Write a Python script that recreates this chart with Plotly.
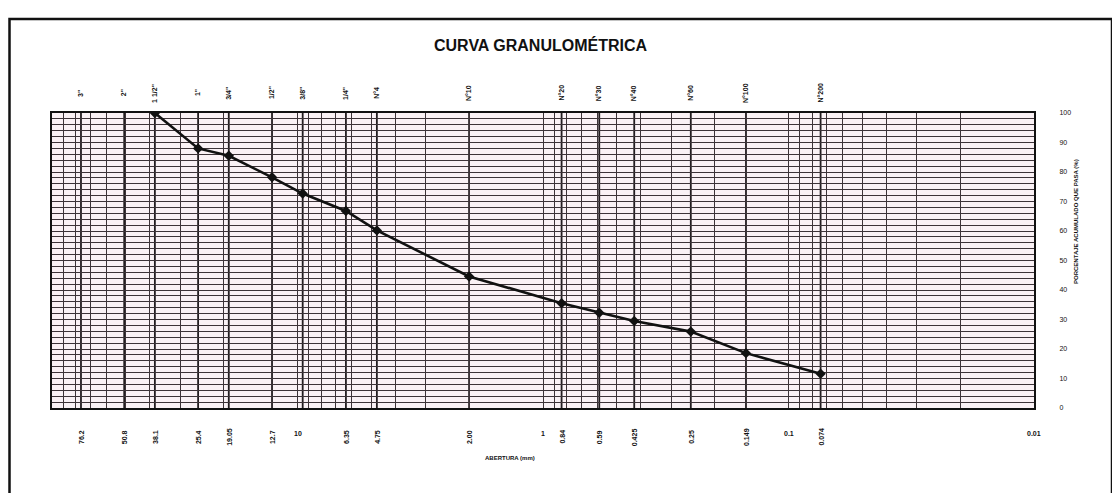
import plotly.graph_objects as go
import math

# ---- data ----
sieve_names = ['3"', '2"', '1 1/2"', '1"', '3/4"', '1/2"', '3/8"', '1/4"',
               'N°4', 'N°10', 'N°20', 'N°30', 'N°40', 'N°60', 'N°100', 'N°200']
sieve_openings = [76.2, 50.8, 38.1, 25.4, 19.05, 12.7, 9.525, 6.35,
                  4.75, 2.00, 0.84, 0.59, 0.425, 0.25, 0.149, 0.074]

bottom_labels = ["76.2", "50.8", "38.1", "25.4", "19.05", "12.7", "6.35", "4.75",
                 "2.00", "0.84", "0.59", "0.425", "0.25", "0.149", "0.074"]
bottom_label_pos = [76.2, 50.8, 38.1, 25.4, 19.05, 12.7, 6.35, 4.75,
                    2.00, 0.84, 0.59, 0.425, 0.25, 0.149, 0.074]
decade_labels = ["10", "1", "0.1", "0.01"]
decade_pos = [10, 1, 0.1, 0.01]

curve_opening = [38.1, 25.4, 19.05, 12.7, 9.525, 6.35, 4.75, 2.00,
                 0.84, 0.59, 0.425, 0.25, 0.149, 0.074]
curve_passing = [100, 88.0, 85.5, 78.2, 72.7, 66.8, 60.2, 44.6,
                 35.5, 32.3, 29.5, 25.9, 18.6, 11.6]

y_ticks = [0, 10, 20, 30, 40, 50, 60, 70, 80, 90, 100]

FONT = "Liberation Sans, Arial, sans-serif"
GRID = "#3d3338"

OFF = 8  # page body margin
W, H = 1112, 485
ML, MR, MT, MB = 52 - OFF, 86, 113 - OFF, 85
PW, PH = W - ML - MR, H - MT - MB


def py(ypx):
    return (H - MB - (ypx - OFF)) / PH


def px(xpx):
    return ((xpx - OFF) - ML) / PW


fig = go.Figure()
fig.add_trace(go.Scatter(
    x=curve_opening, y=curve_passing, mode="lines+markers",
    line=dict(color="#111111", width=2.6),
    marker=dict(symbol="diamond", size=8, color="#111111"),
    showlegend=False, hoverinfo="x+y"))

shapes = []
# extra grid lines at sieve openings
for d in sieve_openings:
    shapes.append(dict(type="line", xref="x", yref="paper",
                       x0=d, x1=d, y0=0, y1=1,
                       line=dict(color="#221c1f", width=1.8), layer="below"))
# outer frame
shapes.append(dict(type="rect", xref="paper", yref="paper",
                   x0=px(9.5), x1=px(1112), y0=py(505), y1=py(19),
                   line=dict(color="#111111", width=2.5)))

annotations = []
for name, d in zip(sieve_names, sieve_openings):
    annotations.append(dict(x=math.log10(d), y=py(93), xref="x", yref="paper",
                            text="<b>%s</b>" % name, showarrow=False,
                            textangle=-90, font=dict(family=FONT, size=7, color="#111"),
                            xanchor="center", yanchor="middle"))
for lab, d in zip(bottom_labels, bottom_label_pos):
    annotations.append(dict(x=math.log10(d), y=py(437), xref="x", yref="paper",
                            text="<b>%s</b>" % lab, showarrow=False,
                            textangle=-90, font=dict(family=FONT, size=7, color="#111"),
                            xanchor="center", yanchor="middle"))
for lab, d in zip(decade_labels, decade_pos):
    annotations.append(dict(x=math.log10(d), y=py(433), xref="x", yref="paper",
                            text="<b>%s</b>" % lab, showarrow=False,
                            font=dict(family=FONT, size=7, color="#111"),
                            xanchor="center", yanchor="middle"))
annotations.append(dict(x=px(510), y=py(458), xref="paper", yref="paper",
                        text="<b>ABERTURA (mm)</b>", showarrow=False,
                        font=dict(family=FONT, size=6, color="#111"),
                        xanchor="center", yanchor="middle"))
annotations.append(dict(x=px(1076), y=py(222), xref="paper", yref="paper",
                        text="<b>PORCENTAJE ACUMULADO QUE PASA (%)</b>", showarrow=False,
                        textangle=-90, font=dict(family=FONT, size=6, color="#111"),
                        xanchor="center", yanchor="middle"))
annotations.append(dict(x=px(540), y=py(45), xref="paper", yref="paper",
                        text="<b>CURVA GRANULOMÉTRICA</b>", showarrow=False,
                        font=dict(family=FONT, size=16, color="#111"),
                        xanchor="center", yanchor="middle"))

fig.update_layout(
    width=W, height=H,
    margin=dict(l=ML, r=MR, t=MT, b=MB),
    paper_bgcolor="white", plot_bgcolor="#faf1f5",
    shapes=shapes, annotations=annotations,
    xaxis=dict(type="log", range=[2, -2], dtick="D1", showticklabels=False,
               showgrid=True, gridcolor=GRID, gridwidth=1.2, zeroline=False,
               showline=True, linecolor="#111", linewidth=2, mirror=True,
               ticks=""),
    yaxis=dict(range=[0, 100], tickvals=y_ticks, side="right",
               tickfont=dict(family=FONT, size=7, color="#111"),
               showgrid=True, gridcolor=GRID, gridwidth=1.2, zeroline=False,
               minor=dict(dtick=2, showgrid=True, gridcolor=GRID, gridwidth=0.9),
               showline=True, linecolor="#111", linewidth=2, mirror=True,
               ticks="", ticklabelstandoff=22),
)

fig.write_html("out.html")
